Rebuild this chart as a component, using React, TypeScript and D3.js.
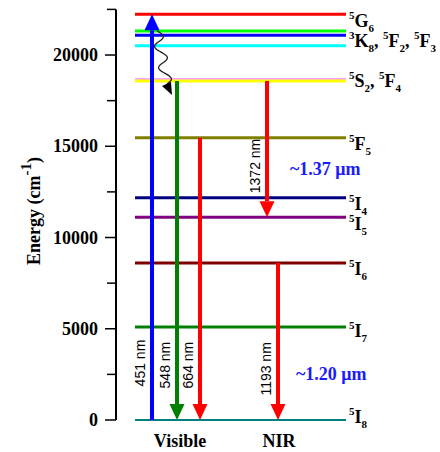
import React, { useEffect, useRef } from 'react';
import * as d3 from 'd3';

// energy levels (cm-1), drawn as horizontal lines
const levelEnergy = [22230, 21320, 21080, 20510, 18690, 18580, 15470, 12180, 11110, 8600, 5100, 0];
const levelColor = ['#ff0000', '#00ff00', '#0000ff', '#00ffff', '#ff80ff', '#ffff00', '#808000', '#000080', '#800080', '#800000', '#008000', '#008080'];
const levelWidth = [3, 3, 3, 3, 1.5, 3, 3, 3, 3, 3, 3, 2];

// term labels: [sup, letter, sub]
const termLabels: [string, string, string][][] = [
  [['5', 'G', '6']],
  [['3', 'K', '8'], ['5', 'F', '2'], ['5', 'F', '3']],
  [['5', 'S', '2'], ['5', 'F', '4']],
  [['5', 'F', '5']],
  [['5', 'I', '4']],
  [['5', 'I', '5']],
  [['5', 'I', '6']],
  [['5', 'I', '7']],
  [['5', 'I', '8']],
];
const termEnergy = [22230, 20510, 18580, 15470, 12180, 11110, 8600, 5100, 0];
const termDy = [13, 1, 6, 12, 12, 13, 12, 10, 3];

// transitions
const transLabel = ['451 nm', '548 nm', '664 nm', '1372 nm', '1193 nm'];
const transFrom = [0, 18580, 15470, 18580, 8600];
const transTo = [22230, 0, 0, 11110, 0];
const transColor = ['#0000ff', '#008000', '#ff0000', '#ff0000', '#ff0000'];
const transLabelEnergy = [3120, 3010, 3010, 13920, 2800];
const transX = [152, 177, 200, 267, 278];

const majorTicks = [0, 5000, 10000, 15000, 20000];
const minorTicks = [2500, 7500, 12500, 17500, 22500];

const App: React.FC = () => {
  const svgRef = useRef<SVGSVGElement>(null);

  useEffect(() => {
    if (!svgRef.current) return;
    d3.select(svgRef.current).selectAll('*').remove();

    const width = 440;
    const height = 452;
    const serif = '"Liberation Serif", "Times New Roman", serif';
    const sans = '"Liberation Sans", Arial, sans-serif';

    const svg = d3.select(svgRef.current)
      .attr('width', width)
      .attr('height', height);

    const y = d3.scaleLinear().domain([0, 22500]).range([420, 9.4]);
    const x0 = 135;
    const x1 = 346;
    const axisX = 116;

    // axis
    svg.append('line')
      .attr('x1', axisX).attr('x2', axisX)
      .attr('y1', y(22500)).attr('y2', y(0))
      .attr('stroke', '#000').attr('stroke-width', 2);

    svg.selectAll('line.major')
      .data(majorTicks)
      .enter()
      .append('line')
      .attr('class', 'major')
      .attr('x1', axisX - 11).attr('x2', axisX)
      .attr('y1', d => y(d)).attr('y2', d => y(d))
      .attr('stroke', '#000').attr('stroke-width', 1.5);

    svg.selectAll('line.minor')
      .data(minorTicks)
      .enter()
      .append('line')
      .attr('class', 'minor')
      .attr('x1', axisX - 9).attr('x2', axisX)
      .attr('y1', d => y(d)).attr('y2', d => y(d))
      .attr('stroke', '#000').attr('stroke-width', 1.5);

    svg.selectAll('text.tick')
      .data(majorTicks)
      .enter()
      .append('text')
      .attr('class', 'tick')
      .attr('x', 98)
      .attr('y', d => y(d) + 6)
      .attr('text-anchor', 'end')
      .style('font-family', serif)
      .style('font-weight', 'bold')
      .style('font-size', '18px')
      .text(d => String(d));

    // axis title
    const title = svg.append('text')
      .attr('transform', `translate(40,211) rotate(-90)`)
      .attr('text-anchor', 'middle')
      .style('font-family', serif)
      .style('font-weight', 'bold')
      .style('font-size', '18px');
    title.append('tspan').text('Energy (cm');
    title.append('tspan').attr('dy', -9).style('font-size', '15px').text('-1');
    title.append('tspan').attr('dy', 9).text(')');

    // levels
    svg.selectAll('line.level')
      .data(levelEnergy)
      .enter()
      .append('line')
      .attr('class', 'level')
      .attr('x1', x0).attr('x2', x1)
      .attr('y1', d => y(d)).attr('y2', d => y(d))
      .attr('stroke', (d, i) => levelColor[i])
      .attr('stroke-width', (d, i) => levelWidth[i]);

    // term labels
    termLabels.forEach((terms, i) => {
      const t = svg.append('text')
        .attr('x', 349)
        .attr('y', y(termEnergy[i]) + termDy[i])
        .style('font-family', serif)
        .style('font-weight', 'bold')
        .style('font-size', '18px');
      let shift = 0;
      terms.forEach(([sup, main, sub], j) => {
        if (j > 0) {
          t.append('tspan').attr('dy', -shift).text(', ');
          shift = 0;
        }
        t.append('tspan').attr('dy', -8 - shift).style('font-size', '11px').text(sup);
        t.append('tspan').attr('dy', 8).text(main);
        t.append('tspan').attr('dy', 5).style('font-size', '11px').text(sub);
        shift = 5;
      });
    });

    // transitions
    const headLen = 16;
    const headHalf = 7.5;
    transLabel.forEach((label, i) => {
      const x = transX[i];
      const ys = y(transFrom[i]);
      const ye = y(transTo[i]);
      const dir = ye > ys ? 1 : -1;
      svg.append('line')
        .attr('x1', x).attr('x2', x)
        .attr('y1', ys).attr('y2', ye - dir * headLen)
        .attr('stroke', transColor[i])
        .attr('stroke-width', 4);
      svg.append('path')
        .attr('d', `M${x},${ye} L${x - headHalf},${ye - dir * headLen} L${x + headHalf},${ye - dir * headLen} Z`)
        .attr('fill', transColor[i]);
      svg.append('text')
        .attr('transform', `translate(${x - 12},${y(transLabelEnergy[i])}) rotate(-90)`)
        .attr('text-anchor', 'middle')
        .attr('dominant-baseline', 'central')
        .style('font-family', sans)
        .style('font-size', '14px')
        .text(label);
    });

    // wavy non-radiative relaxation
    const wStart = [157, y(21320)];
    const wEnd = [167, y(18580) + 3];
    const n = 40;
    const pts: [number, number][] = d3.range(n + 1).map(k => {
      const t = k / n;
      const px = wStart[0] + (wEnd[0] - wStart[0]) * t + 5.5 * Math.sin(t * Math.PI * 5);
      const py = wStart[1] + (wEnd[1] - wStart[1]) * t;
      return [px, py];
    });
    svg.append('path')
      .attr('d', d3.line().curve(d3.curveBasis)(pts) as string)
      .attr('fill', 'none')
      .attr('stroke', '#222')
      .attr('stroke-width', 1.3);
    const tip = [172, y(18580) + 14];
    svg.append('path')
      .attr('d', `M${tip[0]},${tip[1]} L${tip[0] - 10},${tip[1] - 9} L${tip[0] - 1},${tip[1] - 13} Z`)
      .attr('fill', '#000');

    // blue annotations
    svg.append('text')
      .attr('x', 290).attr('y', y(13420))
      .style('font-family', serif)
      .style('font-weight', 'bold')
      .style('font-size', '18px')
      .attr('fill', '#1a1aff')
      .text('~1.37 \u03bcm');
    svg.append('text')
      .attr('x', 296).attr('y', y(2190))
      .style('font-family', serif)
      .style('font-weight', 'bold')
      .style('font-size', '18px')
      .attr('fill', '#1a1aff')
      .text('~1.20 \u03bcm');

    // bottom category labels
    svg.append('text')
      .attr('x', 180).attr('y', 447)
      .attr('text-anchor', 'middle')
      .style('font-family', serif)
      .style('font-weight', 'bold')
      .style('font-size', '18px')
      .text('Visible');
    svg.append('text')
      .attr('x', 279).attr('y', 447)
      .attr('text-anchor', 'middle')
      .style('font-family', serif)
      .style('font-weight', 'bold')
      .style('font-size', '18px')
      .text('NIR');
  }, []);

  return <svg ref={svgRef} style={{ position: 'absolute', left: 0, top: 0, background: '#fff' }}></svg>;
};

export default App;
